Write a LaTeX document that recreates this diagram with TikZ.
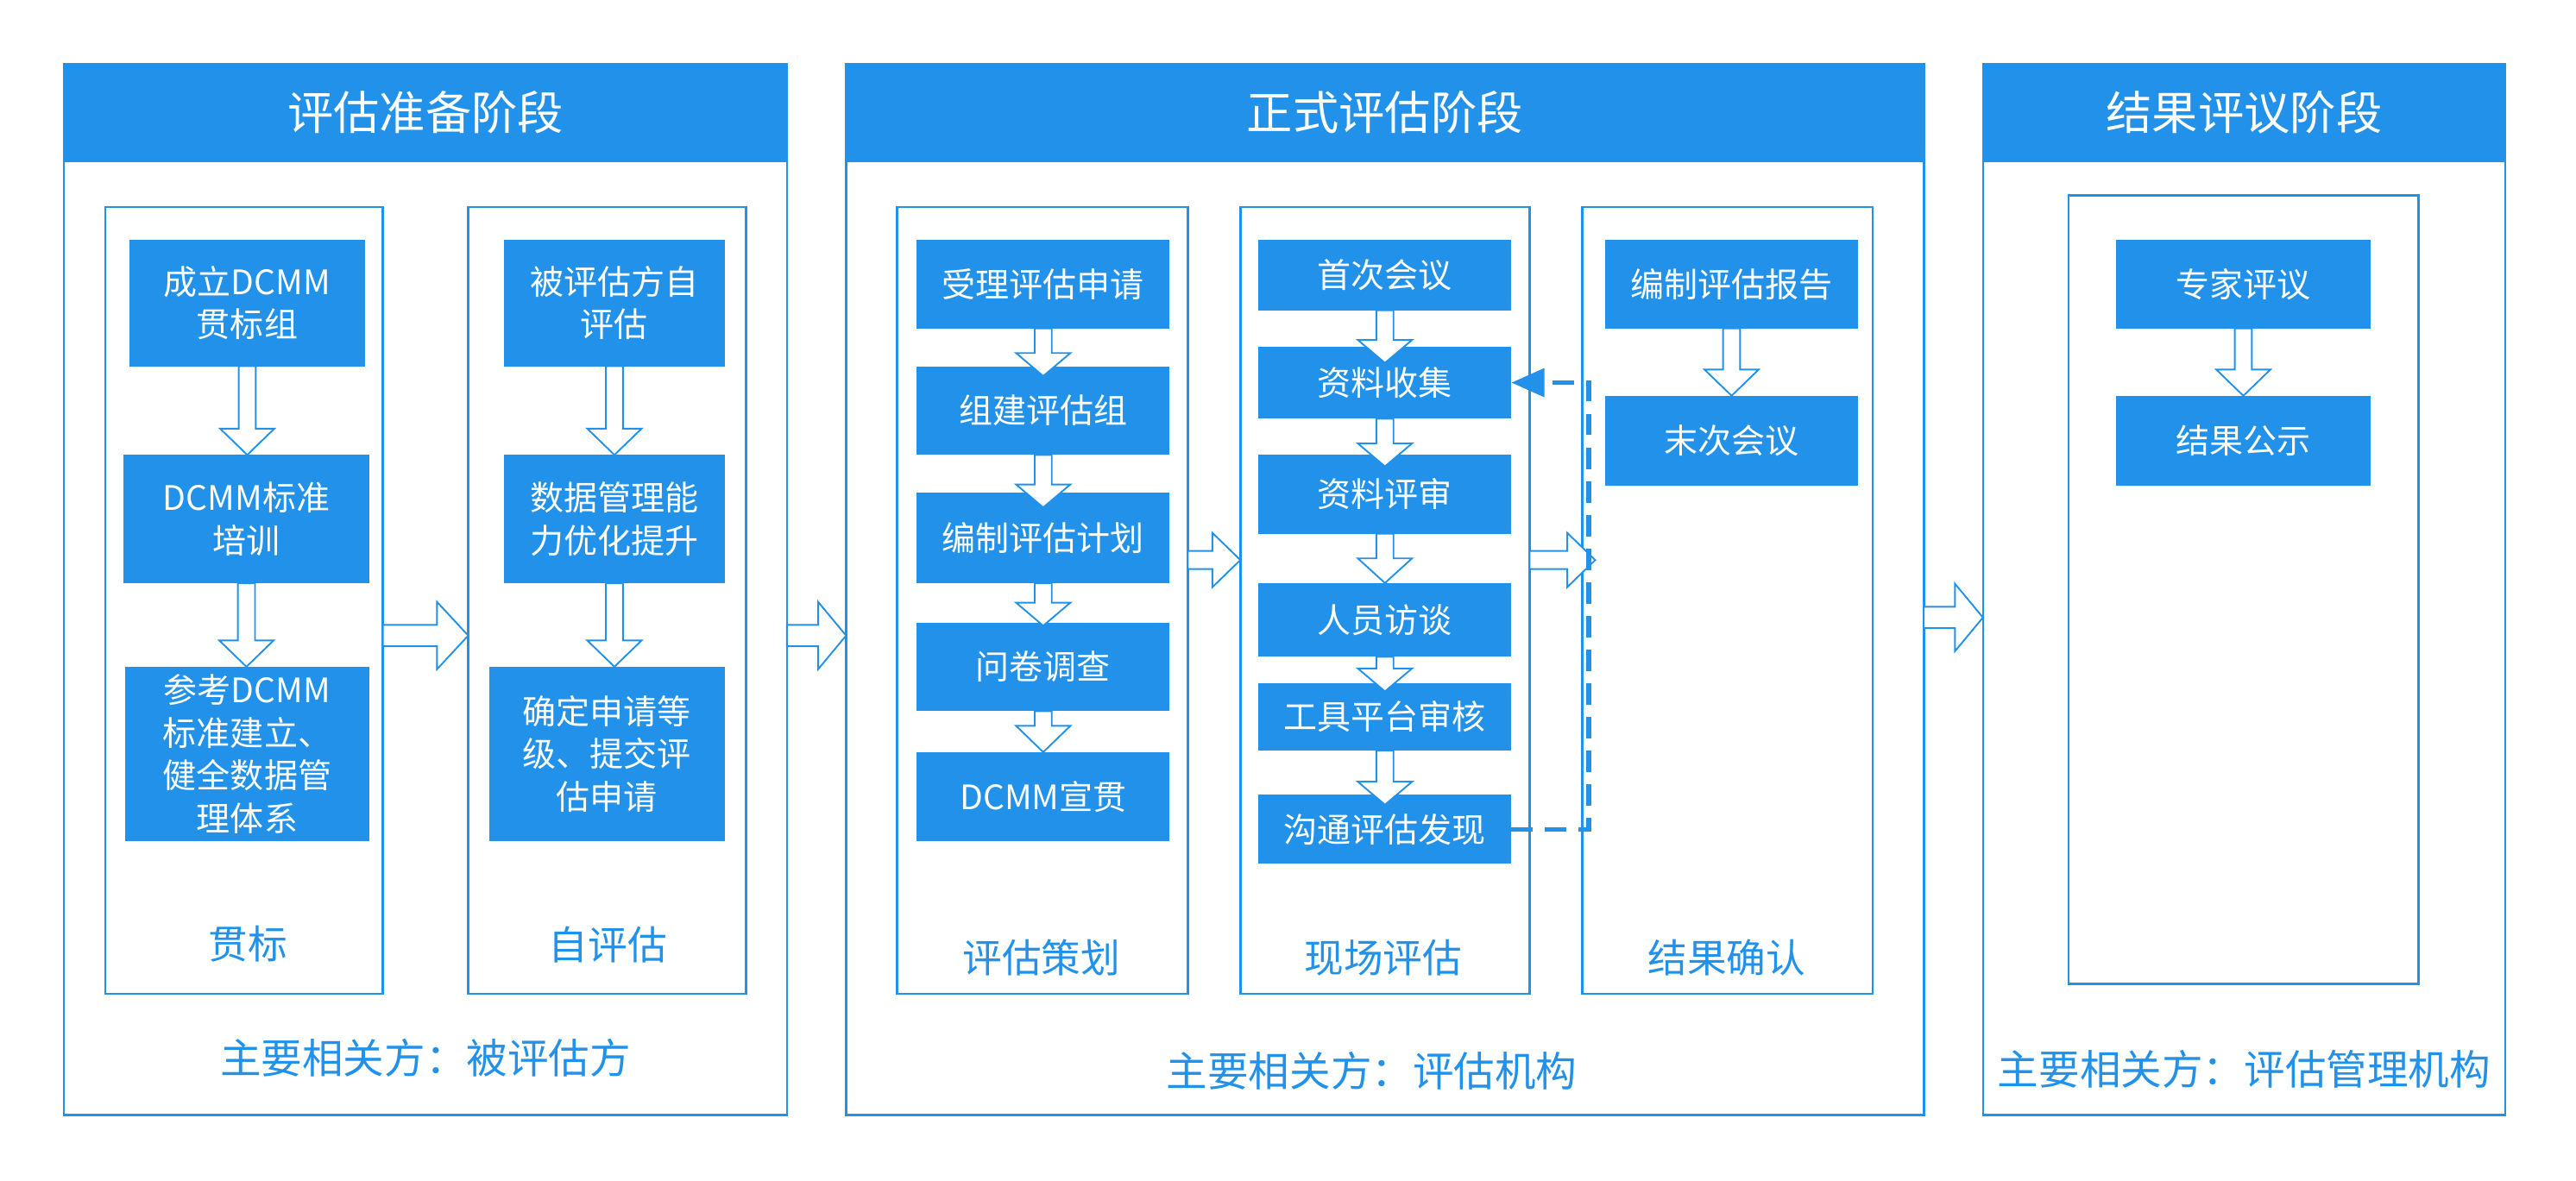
\documentclass[tikz,border=0pt]{standalone}
\usepackage{fontspec}
\setmainfont{Noto Sans CJK SC}
\usetikzlibrary{arrows.meta,calc}
\definecolor{mblue}{RGB}{34,145,234}
% rectangle node given by its corners (x1,y1)-(x2,y2)
\newcommand\mrect[7][]{\node[#1,minimum width={(#5-#3)*1pt},minimum height={(#6-#4)*1pt},inner sep=0pt,outer sep=0pt] (#2) at ({(#3+#5)/2},{(#4+#6)/2}) {#7};}
% hollow vertical arrow: from, to, overlap into target, head length
\newcommand\varr[4]{\draw[hollow] let \p1=(#1.south), \p2=(#2.north) in
  (\x1-5.2pt,\y1) -- (\x1-5.2pt,\y2-#3pt+#4pt) -- (\x1-16.5pt,\y2-#3pt+#4pt) -- (\x1,\y2-#3pt)
  -- (\x1+16.5pt,\y2-#3pt+#4pt) -- (\x1+5.2pt,\y2-#3pt+#4pt) -- (\x1+5.2pt,\y1) -- cycle;}
% hollow horizontal arrow: from, to, y, shaft half, head half, head length, overshoot
\newcommand\harr[7]{\draw[hollow] let \p1=(#1.east), \p2=(#2.west), \p3=(0,#3) in
  (\x1,\y3-#4pt) -- (\x2+#7pt-#6pt,\y3-#4pt) -- (\x2+#7pt-#6pt,\y3-#5pt) -- (\x2+#7pt,\y3)
  -- (\x2+#7pt-#6pt,\y3+#5pt) -- (\x2+#7pt-#6pt,\y3+#4pt) -- (\x1,\y3+#4pt) -- cycle;}
\begin{document}
\begin{tikzpicture}[x=1pt,y=-1pt,
  line/.style={draw=mblue,line width=1.3pt},
  hdr/.style={fill=mblue,draw=mblue,line width=1.3pt,text=white,font=\fontsize{28}{34}\selectfont},
  blk/.style={fill=mblue,text=white,font=\fontsize{20.5}{26}\selectfont,align=center},
  lab/.style={text=mblue,font=\fontsize{24}{28}\selectfont,inner sep=0pt},
  party/.style={text=mblue,font=\fontsize{25}{30}\selectfont,inner sep=0pt},
  hollow/.style={draw=mblue,fill=white,line width=1pt,line join=miter},
  fb/.style={draw=mblue,line width=2.8pt,dash pattern=on 13pt off 7.5pt}
]
\useasboundingbox (0,0) rectangle (1568,719);

% ---------- panel 1 ----------
\mrect[line]{P1}{39}{39}{479}{679}{}
\mrect[hdr]{H1}{39}{39}{479}{98}{评估准备阶段}
\mrect[line]{I1}{64}{126}{233}{605}{}
\mrect[line]{I2}{285}{126}{454}{605}{}
\mrect[blk]{a1}{79}{146}{222}{223}{成立DCMM\\贯标组}
\mrect[blk]{a2}{75}{277}{225}{355}{DCMM标准\\培训}
\mrect[blk]{a3}{76}{406}{225}{512}{参考DCMM\\标准建立、\\健全数据管\\理体系}
\mrect[blk]{b1}{307}{146}{441}{223}{被评估方自\\评估}
\mrect[blk]{b2}{307}{277}{441}{355}{数据管理能\\力优化提升}
\mrect[blk]{b3}{298}{406}{441}{512}{确定申请等\\级、提交评\\估申请}
\node[lab] (l1) at (151,575) {贯标};
\node[lab] (l2) at (370,575) {自评估};
\node[party] (pa1) at (259,644) {主要相关方：被评估方};

% ---------- panel 2 ----------
\mrect[line]{P2}{515}{39}{1171}{679}{}
\mrect[hdr]{H2}{515}{39}{1171}{98}{正式评估阶段}
\mrect[line]{I3}{546}{126}{723}{605}{}
\mrect[line]{I4}{755}{126}{931}{605}{}
\mrect[line]{I5}{963}{126}{1140}{605}{}
\mrect[blk]{c1}{558}{146}{712}{200}{受理评估申请}
\mrect[blk]{c2}{558}{223}{712}{277}{组建评估组}
\mrect[blk]{c3}{558}{300}{712}{355}{编制评估计划}
\mrect[blk]{c4}{558}{379}{712}{433}{问卷调查}
\mrect[blk]{c5}{558}{458}{712}{512}{DCMM宣贯}
\mrect[blk]{d1}{766}{146}{920}{189}{首次会议}
\mrect[blk]{d2}{766}{211}{920}{255}{资料收集}
\mrect[blk]{d3}{766}{277}{920}{325}{资料评审}
\mrect[blk]{d4}{766}{355}{920}{400}{人员访谈}
\mrect[blk]{d5}{766}{416}{920}{457}{工具平台审核}
\mrect[blk]{d6}{766}{484}{920}{526}{沟通评估发现}
\mrect[blk]{e1}{977}{146}{1131}{200}{编制评估报告}
\mrect[blk]{e2}{977}{241}{1131}{296}{末次会议}
\node[lab] (l3) at (634,583) {评估策划};
\node[lab] (l4) at (842,583) {现场评估};
\node[lab] (l5) at (1051,583) {结果确认};
\node[party] (pa2) at (835,652) {主要相关方：评估机构};

% ---------- panel 3 ----------
\mrect[line]{P3}{1207}{39}{1525}{679}{}
\mrect[hdr]{H3}{1207}{39}{1525}{98}{结果评议阶段}
\mrect[line]{I6}{1259}{119}{1472}{599}{}
\mrect[blk]{f1}{1288}{146}{1443}{200}{专家评议}
\mrect[blk]{f2}{1288}{241}{1443}{296}{结果公示}
\node[party] (pa3) at (1366,651) {主要相关方：评估管理机构};

% ---------- vertical hollow arrows ----------
\varr{a1}{a2}{0}{16}
\varr{a2}{a3}{0}{16}
\varr{b1}{b2}{0}{16}
\varr{b2}{b3}{0}{16}
\varr{c1}{c2}{6}{14}
\varr{c2}{c3}{9}{14}
\varr{c3}{c4}{2}{14}
\varr{c4}{c5}{0}{16}
\varr{d1}{d2}{10}{14}
\varr{d2}{d3}{7}{14}
\varr{d3}{d4}{0}{15}
\varr{d4}{d5}{5}{14}
\varr{d5}{d6}{6}{14}
\varr{e1}{e2}{0}{16}
\varr{f1}{f2}{0}{16}

% ---------- horizontal hollow arrows ----------
\harr{I1}{I2}{387}{6.5}{20.5}{19}{0}
\harr{P1}{P2}{387}{6.5}{20.5}{17}{0}
\harr{I3}{I4}{341}{5.5}{16.5}{17}{0}
\harr{I4}{I5}{341}{5.5}{16.5}{17}{8}
\harr{P2}{P3}{376}{6.5}{20.5}{17}{0}

% ---------- dashed feedback ----------
\draw[fb,-{Triangle[length=20pt,width=17pt]}] (d6.east) -- ++(47,0) |- (d2.east);
\end{tikzpicture}
\end{document}
